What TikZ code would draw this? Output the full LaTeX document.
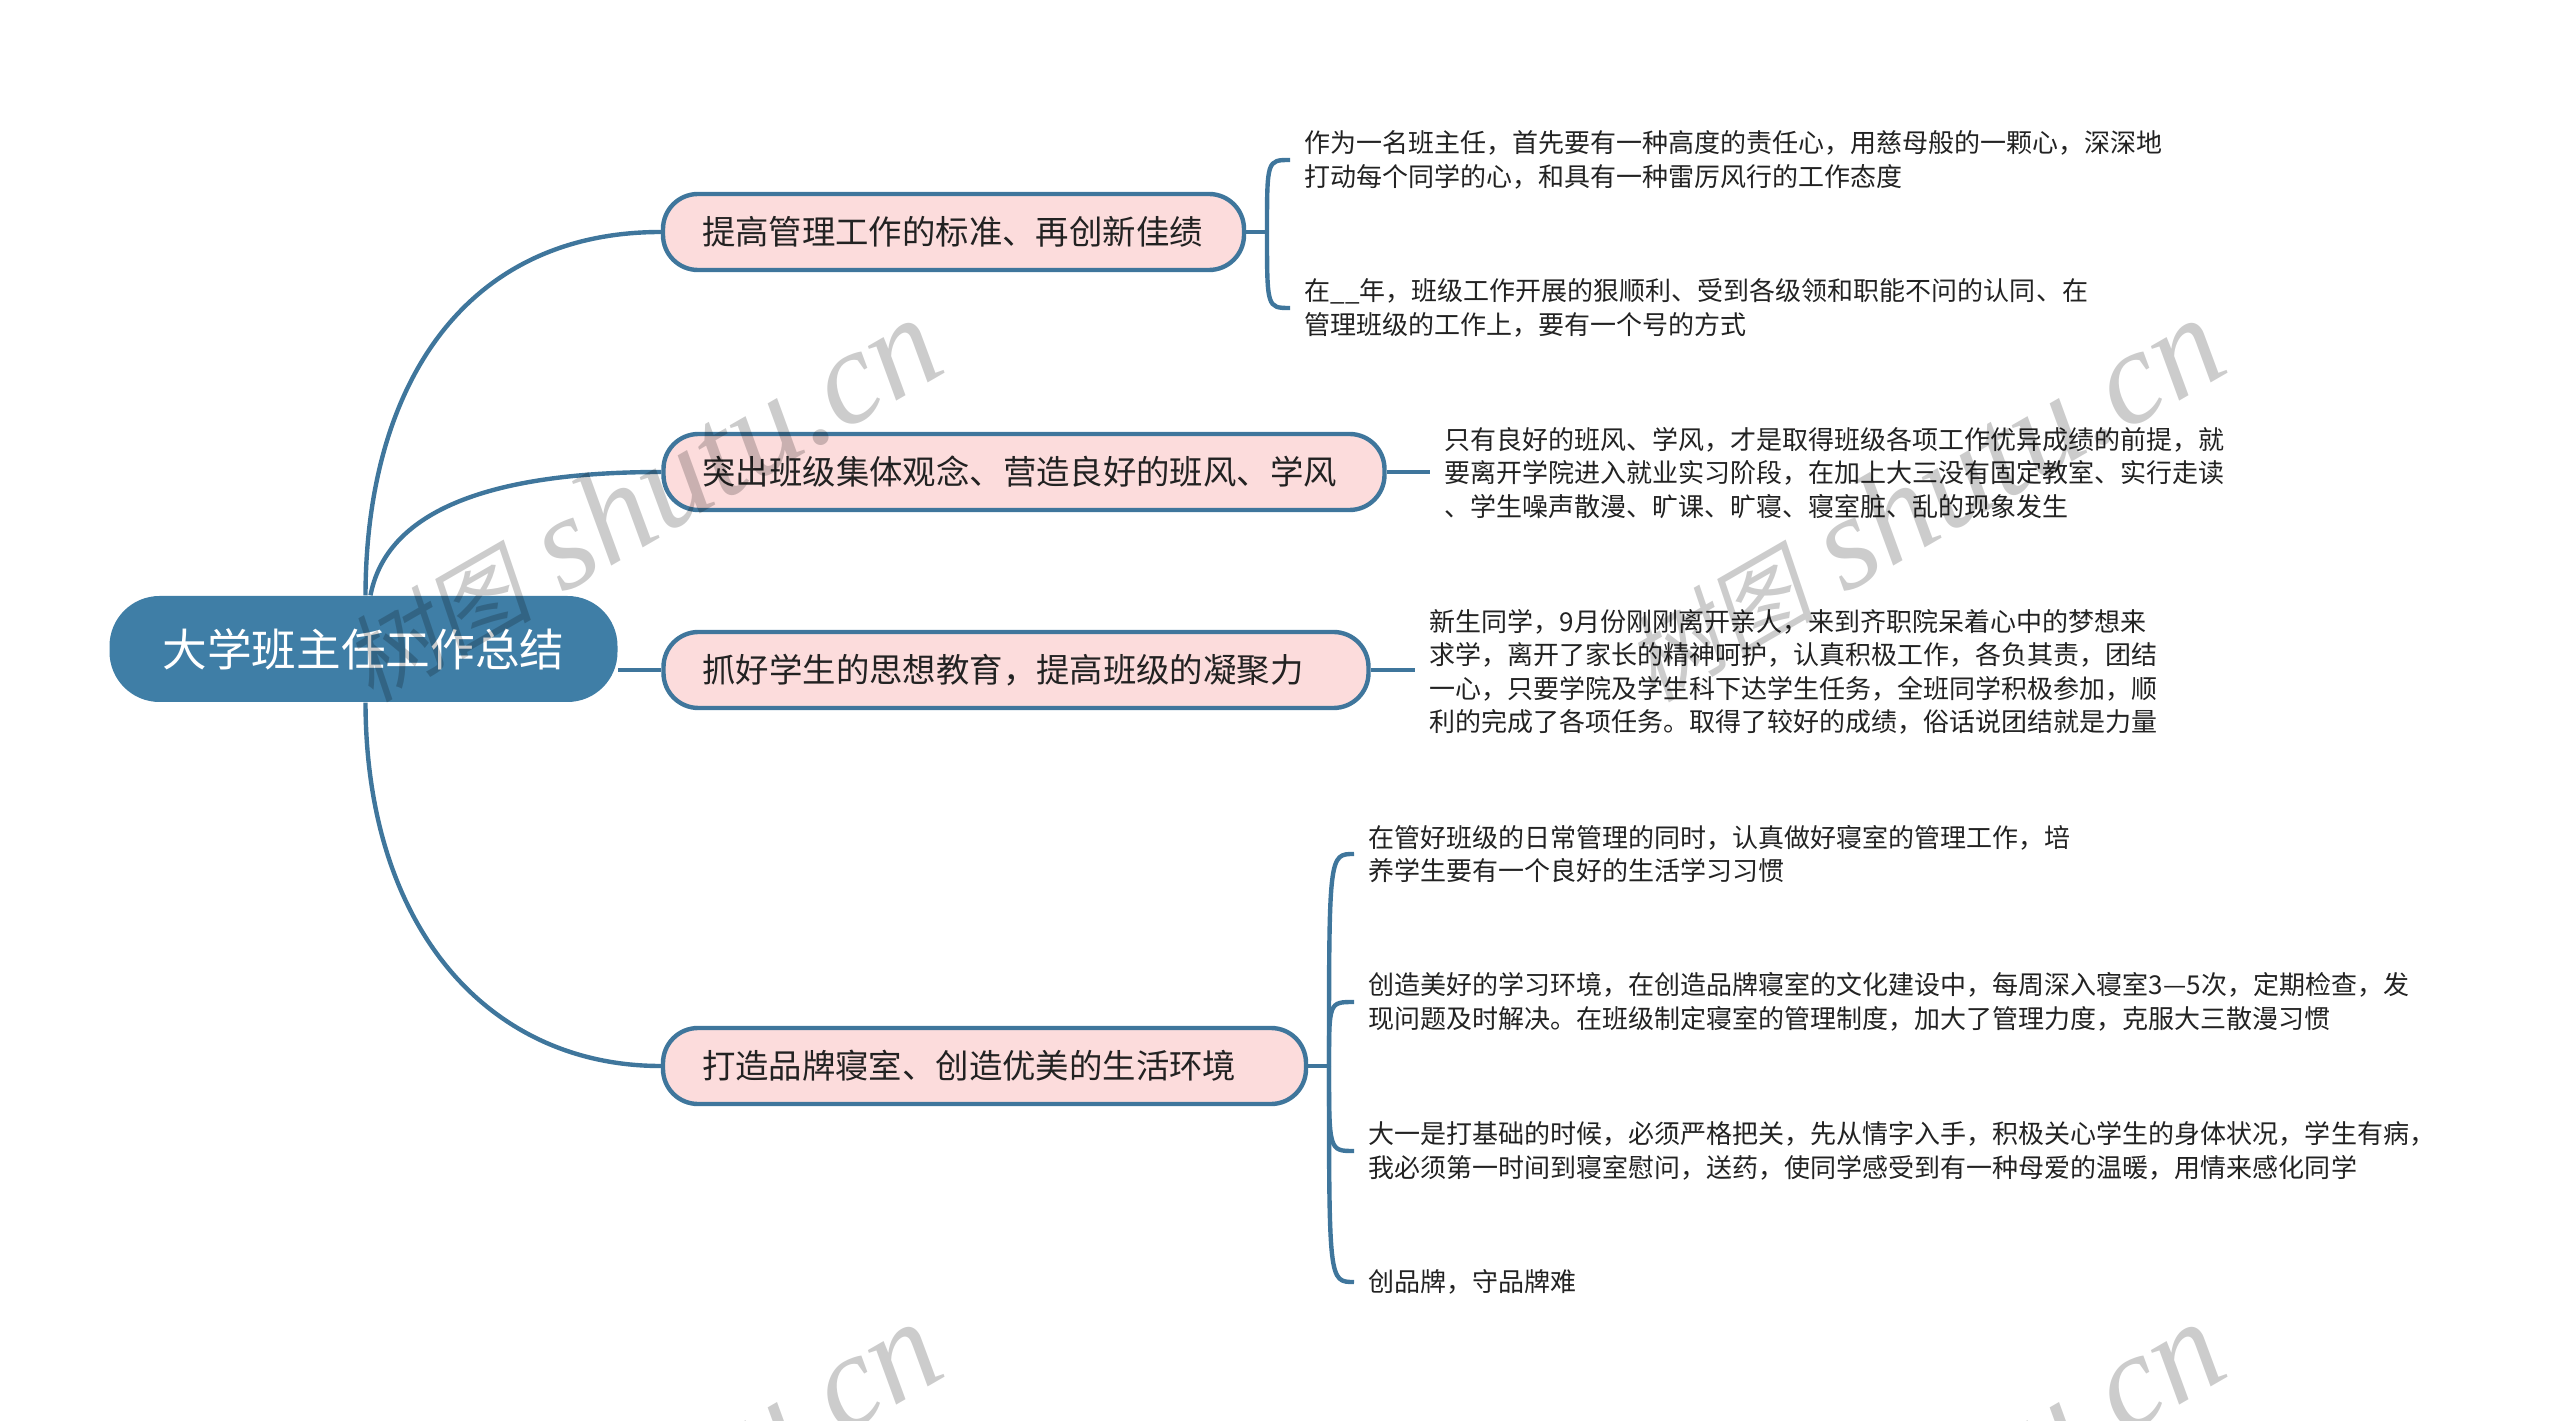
\documentclass[tikz,border=0pt]{standalone}
\usepackage{fontspec}
\usepackage{xcolor}
\setmainfont{Noto Sans CJK SC}
\newfontfamily\wmcjk[FakeSlant=0.2]{Noto Sans CJK SC}
\newfontfamily\wmlat{Liberation Serif}
\definecolor{rootblue}{HTML}{3F7EA6}
\definecolor{linkblue}{HTML}{3F769C}
\definecolor{branchpink}{HTML}{FCDCDC}
\definecolor{leafink}{HTML}{222222}
\tikzset{
    root/.style={fill=rootblue,text=white,rounded corners=0.5cm,minimum width=5.08cm,minimum height=1.06cm,inner sep=0pt,font=\fontsize{12.7}{15}\selectfont},
    branch/.style={draw=linkblue,line width=1.25pt,fill=branchpink,text=leafink,rounded corners=0.35cm,minimum height=0.76cm,inner xsep=0.39cm,inner ysep=0pt,align=left,font=\fontsize{9.5}{12}\selectfont},
    leaf/.style={align=left,anchor=west,text=leafink,inner xsep=0.14cm,inner ysep=0pt,font=\fontsize{7.4}{9.5}\selectfont},
    link/.style={draw=linkblue,line width=1.25pt},
    wmark/.style={rotate=30,text=black,opacity=0.2,inner sep=0pt}
}
\begin{document}
\begin{tikzpicture}
    \useasboundingbox (0,0) rectangle (25.6,-14.21);
    \clip (0,0) rectangle (25.6,-14.21);

    % Center and branches
    \node[root] (center) at (3.635,-6.49) {大学班主任工作总结};
    \node[branch,text width=5.03cm] (b1) at (9.535,-2.32) {提高管理工作的标准、再创新佳绩};
    \node[branch,text width=6.43cm] (b2) at (10.24,-4.72) {突出班级集体观念、营造良好的班风、学风};
    \node[branch,text width=6.27cm] (b3) at (10.16,-6.70) {抓好学生的思想教育，提高班级的凝聚力};
    \node[branch,text width=5.65cm] (b4) at (9.845,-10.66) {打造品牌寝室、创造优美的生活环境};

    % Links from center
    \draw[link] ([xshift=0.02cm]center.north) .. controls (3.66,-3.85) and (4.65,-2.32) .. (b1.west);
    \draw[link] ([xshift=0.07cm]center.north) .. controls (3.85,-5.2) and (4.7,-4.72) .. (b2.west);
    \draw[link] (center.east |- b3.west) -- (b3.west);
    \draw[link] ([xshift=0.02cm]center.south) .. controls (3.66,-9.3) and (4.9,-10.66) .. (b4.west);

    % Leaves of b1
    \node[leaf] (l11) at (12.90,-1.60) {作为一名班主任，首先要有一种高度的责任心，用慈母般的一颗心，深深地\\打动每个同学的心，和具有一种雷厉风行的工作态度};
    \node[leaf] (l12) at (12.90,-3.08) {在\_\_年，班级工作开展的狠顺利、受到各级领和职能不问的认同、在\\管理班级的工作上，要有一个号的方式};
    \coordinate (j1) at (12.67,-2.32);
    \draw[link] (b1.east) -- (j1);
    \draw[link] (j1) .. controls (j1 |- l11.west) and (j1 |- l11.west) .. (l11.west);
    \draw[link] (j1) .. controls (j1 |- l12.west) and (j1 |- l12.west) .. (l12.west);

    % Leaf of b2
    \node[leaf] (l21) at (14.30,-4.73) {只有良好的班风、学风，才是取得班级各项工作优异成绩的前提，就\\要离开学院进入就业实习阶段，在加上大三没有固定教室、实行走读\\、学生噪声散漫、旷课、旷寝、寝室脏、乱的现象发生};
    \draw[link] (b2.east) -- (b2.east -| l21.west);

    % Leaf of b3
    \node[leaf] (l31) at (14.15,-6.72) {新生同学，9月份刚刚离开亲人，来到齐职院呆着心中的梦想来\\求学，离开了家长的精神呵护，认真积极工作，各负其责，团结\\一心，只要学院及学生科下达学生任务，全班同学积极参加，顺\\利的完成了各项任务。取得了较好的成绩，俗话说团结就是力量};
    \draw[link] (b3.east) -- (b3.east -| l31.west);

    % Leaves of b4
    \node[leaf] (l41) at (13.54,-8.54) {在管好班级的日常管理的同时，认真做好寝室的管理工作，培\\养学生要有一个良好的生活学习习惯};
    \node[leaf] (l42) at (13.54,-10.02) {创造美好的学习环境，在创造品牌寝室的文化建设中，每周深入寝室3—5次，定期检查，发\\现问题及时解决。在班级制定寝室的管理制度，加大了管理力度，克服大三散漫习惯};
    \node[leaf] (l43) at (13.54,-11.51) {大一是打基础的时候，必须严格把关，先从情字入手，积极关心学生的身体状况，学生有病，\\我必须第一时间到寝室慰问，送药，使同学感受到有一种母爱的温暖，用情来感化同学};
    \node[leaf] (l44) at (13.54,-12.82) {创品牌，守品牌难};
    \coordinate (j4) at (13.29,-10.66);
    \draw[link] (b4.east) -- (j4);
    \foreach \n in {l41,l42,l43,l44}
        \draw[link] (j4) .. controls (j4 |- \n.west) and (j4 |- \n.west) .. (\n.west);

    % Watermarks
    \foreach \n/\x/\y in {w1/6.40/-5.00,w2/19.22/-5.00,w3/6.40/-15.04,w4/19.22/-15.04}
        \node[wmark] (\n) at (\x,\y) {{\fontsize{27}{36}\selectfont\wmcjk 树图}\hspace{0.3cm}{\fontsize{38}{40}\selectfont\wmlat\itshape shutu.cn}};
\end{tikzpicture}
\end{document}
